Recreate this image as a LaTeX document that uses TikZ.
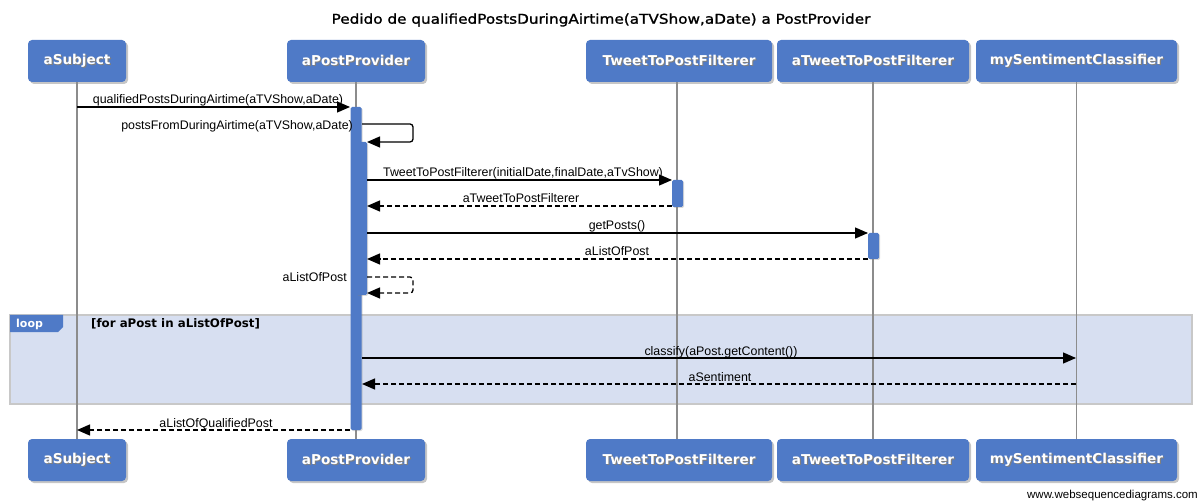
\documentclass[tikz,border=0pt]{standalone}
\usepackage{fontspec}
\setmainfont{Liberation Sans}
\newfontfamily\boxfont{DejaVu Sans}
\newfontfamily\titlefont[FakeBold=1.2]{DejaVu Sans}
\usetikzlibrary{arrows.meta,shadows}
\definecolor{wsdblue}{RGB}{79,122,199}
\definecolor{framefill}{RGB}{215,223,241}
\definecolor{frameline}{RGB}{200,200,200}
\definecolor{lifegray}{RGB}{140,140,140}
\newcommand\shtext[1]{\makebox[0pt][l]{\kern1.2pt\raisebox{-1.2pt}{\textcolor{black!50}{#1}}}#1}
\begin{document}
\begin{tikzpicture}[x=1pt,y=-1pt,
  participant/.style={rectangle, rounded corners=4pt, fill=wsdblue, text=white,
    font=\boxfont\bfseries\fontsize{13.6}{16}\selectfont, minimum height=42pt,
    inner sep=0pt, drop shadow={opacity=0.45, shadow xshift=2pt, shadow yshift=-2pt}},
  actbar/.style={rectangle, rounded corners=1.5pt, fill=wsdblue, draw=none, inner sep=0pt,
    minimum width=11pt, drop shadow={opacity=0.3, shadow xshift=1pt, shadow yshift=-1pt}},
  lifeline/.style={draw=lifegray, line width=1.4pt},
  msg/.style={line width=1.3pt, -{Triangle[length=13pt,width=11pt]}},
  ret/.style={msg, dash pattern=on 5pt off 3pt},
  lbl/.style={font=\fontsize{12.4}{13}\selectfont, inner sep=0pt, anchor=base},
]
\useasboundingbox (0,0) rectangle (1201,502);
% title
\node[font=\titlefont\fontsize{13.5}{15}\selectfont, inner sep=0pt] (title) at (601,20)
  {\scalebox{1.13}[1]{Pedido de qualifiedPostsDuringAirtime(aTVShow,aDate) a PostProvider}};

% loop frame (background)
\path[fill=framefill, draw=frameline, line width=2pt] (10,315) rectangle (1192,404);
\path[fill=wsdblue] (10,315) -- (63,315) -- (63,327) -- (58,332) -- (10,332) -- cycle;
\node[font=\boxfont\bfseries\fontsize{11}{12}\selectfont, text=white, inner sep=0pt, anchor=west] (looptag) at (16,324) {loop};
\node[font=\boxfont\bfseries\fontsize{11.8}{13}\selectfont, inner sep=0pt, anchor=west] (guard) at (91,324) {[for aPost in aListOfPost]};

% participants
\node[participant, minimum width=98pt] (s1) at (77,61) {\shtext{aSubject}};
\node[participant, minimum width=138pt] (p1) at (356,61) {\shtext{aPostProvider}};
\node[participant, minimum width=186pt] (t1) at (679,61) {\shtext{TweetToPostFilterer}};
\node[participant, minimum width=192pt] (f1) at (873,61) {\shtext{aTweetToPostFilterer}};
\node[participant, minimum width=201pt] (c1) at (1076.5,61) {\shtext{mySentimentClassifier}};
\node[participant, minimum width=98pt] (s2) at (77,460) {\shtext{aSubject}};
\node[participant, minimum width=138pt] (p2) at (356,460) {\shtext{aPostProvider}};
\node[participant, minimum width=186pt] (t2) at (679,460) {\shtext{TweetToPostFilterer}};
\node[participant, minimum width=192pt] (f2) at (873,460) {\shtext{aTweetToPostFilterer}};
\node[participant, minimum width=201pt] (c2) at (1076.5,460) {\shtext{mySentimentClassifier}};

% lifelines
\draw[lifeline] (s1.south) -- (s2.north);
\draw[lifeline] (p1.south) -- (p2.north);
\draw[lifeline] ([xshift=-2pt]t1.south) -- ([xshift=-2pt]t2.north);
\draw[lifeline] (f1.south) -- (f2.north);
\draw[lifeline] (c1.south) -- (c2.north);

% activations
\node[actbar, minimum height=323pt] (a1) at (356,268.5) {};
\node[actbar, minimum height=153pt] (a2) at (361.5,218.5) {};
\node[actbar, minimum height=27pt] (a3) at (677.5,193.5) {};
\node[actbar, minimum height=26pt] (a4) at (873.5,246) {};

% message end points
\coordinate (m1s) at (77,107);
\coordinate (m1e) at (350,107);
\coordinate (m2s) at (362,124);
\coordinate (m2e) at (367,142);
\coordinate (m3s) at (367,180);
\coordinate (m3e) at (672,180);
\coordinate (m4s) at (672,206);
\coordinate (m4e) at (367,206);
\coordinate (m5s) at (367,233);
\coordinate (m5e) at (868,233);
\coordinate (m6s) at (868,259);
\coordinate (m6e) at (367,259);
\coordinate (m7s) at (367,277);
\coordinate (m7e) at (367,293);
\coordinate (m8s) at (362,358);
\coordinate (m8e) at (1076,358);
\coordinate (m9s) at (1076,384);
\coordinate (m9e) at (362,384);
\coordinate (m10s) at (350,430);
\coordinate (m10e) at (77,430);

% messages
\draw[msg] (m1s) -- (m1e);
\node[lbl] (l1) at (218,104) {qualifiedPostsDuringAirtime(aTVShow,aDate)};
\draw[msg, rounded corners=3pt] (m2s) -- (413,124) -- (413,142) -- (m2e);
\node[lbl, anchor=base east] (l2) at (353,130) {postsFromDuringAirtime(aTVShow,aDate)};
\draw[msg] (m3s) -- (m3e);
\node[lbl] (l3) at (523,177) {TweetToPostFilterer(initialDate,finalDate,aTvShow)};
\draw[ret] (m4s) -- (m4e);
\node[lbl] (l4) at (521,203) {aTweetToPostFilterer};
\draw[msg] (m5s) -- (m5e);
\node[lbl] (l5) at (617,230) {getPosts()};
\draw[ret] (m6s) -- (m6e);
\node[lbl] (l6) at (617,256) {aListOfPost};
\draw[ret, rounded corners=3pt] (m7s) -- (413,277) -- (413,293) -- (m7e);
\node[lbl, anchor=base east] (l7) at (347,282) {aListOfPost};
\draw[msg] (m8s) -- (m8e);
\node[lbl] (l8) at (721,355) {classify(aPost.getContent())};
\draw[ret] (m9s) -- (m9e);
\node[lbl] (l9) at (720,381) {aSentiment};
\draw[ret] (m10s) -- (m10e);
\node[lbl] (l10) at (216,427) {aListOfQualifiedPost};

% watermark
\node[font=\fontsize{11.5}{12}\selectfont, inner sep=0pt, anchor=base east] (wm) at (1198,498) {www.websequencediagrams.com};
\end{tikzpicture}
\end{document}
